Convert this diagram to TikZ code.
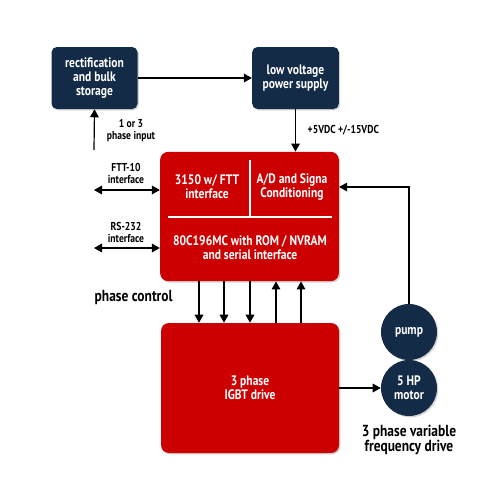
\documentclass[tikz,border=0pt]{standalone}
\usepackage{fontspec}
\setmainfont{PT Sans}[FakeStretch=0.84]
\usetikzlibrary{arrows.meta,shadows}
\definecolor{navy}{HTML}{142B47}
\definecolor{boxred}{HTML}{CC0000}

\begin{document}
\begin{tikzpicture}[x=0.75pt,y=-0.75pt,
    font=\bfseries,
    arr/.style={-{Triangle[length=6pt,width=6.5pt]},line width=0.9pt},
    darr/.style={{Triangle[length=6pt,width=6.5pt]}-{Triangle[length=6pt,width=6.5pt]},line width=0.9pt},
    navybox/.style={fill=navy,text=white,rounded corners=4pt,align=center,
      font=\bfseries\fontsize{10.3}{10.5}\selectfont,
      drop shadow={shadow xshift=1pt,shadow yshift=-1pt,opacity=0.35}},
    redbox/.style={fill=boxred,text=white,rounded corners=6pt,
      drop shadow={shadow xshift=1pt,shadow yshift=-1pt,opacity=0.35}},
    ball/.style={circle,fill=navy,text=white,minimum size=42pt,inner sep=0pt,align=center,
      font=\bfseries\fontsize{10.3}{10.5}\selectfont,
      drop shadow={shadow xshift=1pt,shadow yshift=-1pt,opacity=0.35}},
    inner/.style={text=white,align=center,font=\bfseries\fontsize{10.3}{10.5}\selectfont},
    lbl/.style={align=center,font=\bfseries\fontsize{8.6}{9}\selectfont},
    biglbl/.style={align=center,font=\bfseries\fontsize{12}{11}\selectfont}]
    \useasboundingbox (0,0) rectangle (500,500);

    \node[navybox,minimum width=64.5pt,minimum height=46.5pt,inner sep=1pt] (rect) at (94.5,78) {rectification\\and bulk\\storage};
    \node[navybox,minimum width=65pt,minimum height=46.5pt,inner sep=1pt] (lv) at (295.5,78) {low voltage\\power supply};
    \node[redbox,minimum width=134pt,minimum height=97pt] (cpu) at (249.5,216.5) {};
    \node[redbox,minimum width=133.5pt,minimum height=97.5pt,inner,font=\bfseries\fontsize{10.3}{10.5}\selectfont] (igbt) at (250,388) {3 phase\\IGBT drive};
    \node[ball] (pump) at (409,332) {pump};
    \node[ball] (motor) at (409,388) {5 HP\\motor};

    \draw[white,line width=0.8pt] (250,160) -- (250,217);
    \draw[white,line width=0.8pt] (168,217) -- (332,217);
    \node[inner] (ftt) at (207,187) {3150 w/ FTT\\interface};
    \node[inner] (adc) at (292,187) {A/D and Signa\\Conditioning};
    \node[inner] (mcu) at (250,248) {80C196MC with ROM / NVRAM\\and serial interface};

    \coordinate (inp) at (94,150);
    \coordinate (fttend) at (94,190);
    \coordinate (rsend) at (94,248);
    \coordinate (fb) at (409,187);

    \draw[arr] (rect) -- (lv);
    \draw[arr] (inp) -- (rect.south);
    \draw[arr] (lv.south) -- (lv.south |- cpu.north);
    \draw[darr] (fttend) -- (cpu.west |- fttend);
    \draw[darr] (rsend) -- (cpu.west |- rsend);
    \foreach \x in {199,224,250} {
      \coordinate (d\x) at (\x,300);
      \draw[arr] (cpu.south -| d\x) -- (igbt.north -| d\x);
    }
    \foreach \x in {276,301} {
      \coordinate (u\x) at (\x,300);
      \draw[arr] (igbt.north -| u\x) -- (cpu.south -| u\x);
    }
    \draw[arr] (pump.north) -- (fb) -- (cpu.east |- fb);
    \draw[arr] (igbt.east |- motor) -- (motor.west);

    \node[lbl] (inplbl) at (131,131) {1 or 3\\phase input};
    \node[lbl,anchor=west] (vlbl) at (303,130) {+5VDC +/-15VDC};
    \node[lbl] (fttlbl) at (126,173) {FTT-10\\interface};
    \node[lbl] (rslbl) at (126,232) {RS-232\\interface};
    \node[biglbl,anchor=west] (pclbl) at (90,297) {phase control};
    \node[biglbl] (vfdlbl) at (409,440) {3 phase variable\\frequency drive};
\end{tikzpicture}
\end{document}
